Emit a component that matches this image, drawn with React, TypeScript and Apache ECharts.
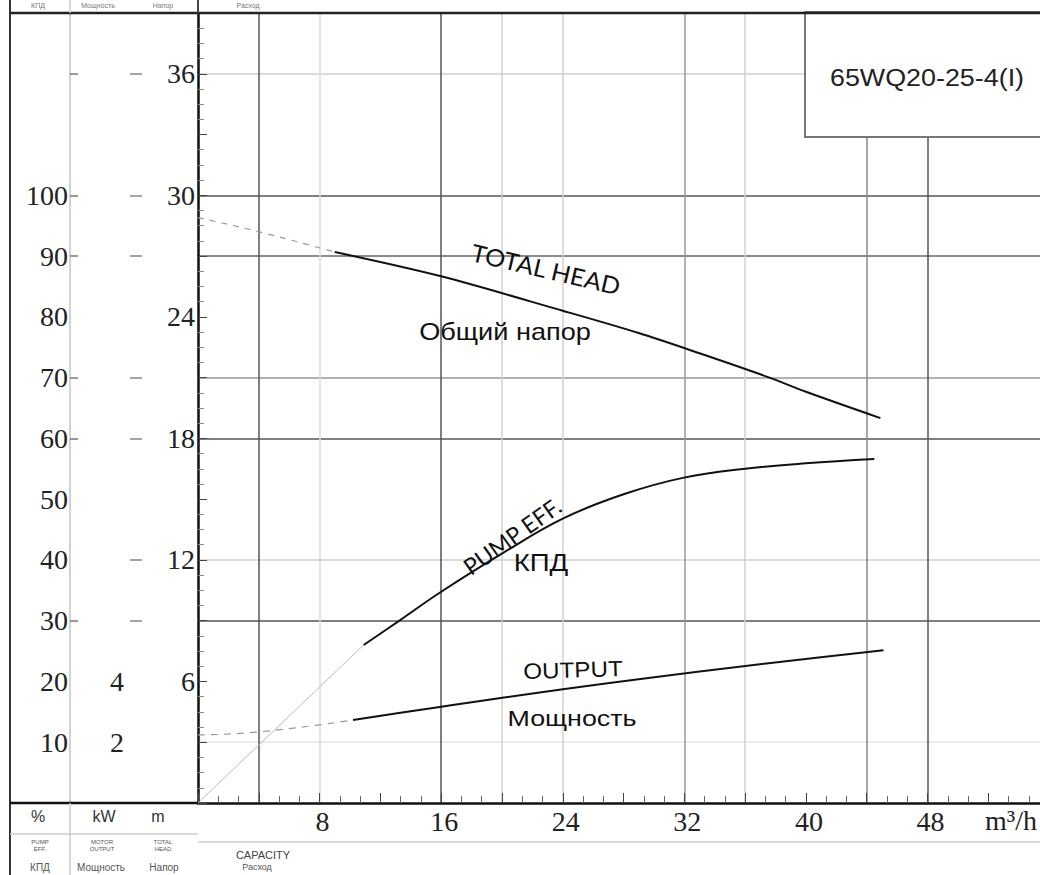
import React, { useEffect, useRef } from "react";
import * as echarts from "echarts";

// ---- data ----
// capacity Q (m3/h) / total head H (m)
const headExtQ = [0, 4, 9];
const headExtH = [28.9, 28.2, 27.2];
const headQ = [9, 16, 24, 29, 33, 37.6, 40, 44.9];
const headH = [27.2, 26.0, 24.3, 23.2, 22.2, 21.0, 20.3, 19.0];
// pump efficiency (%)
const effExtQ = [0, 10.9];
const effExtE = [0, 26.0];
const effQ = [10.9, 13.3, 15.9, 20.1, 24, 28, 31.9, 36, 40, 44.5];
const effE = [26.0, 30.1, 34.6, 41.2, 46.8, 50.8, 53.5, 55.0, 55.9, 56.6];
// motor output (kW)
const powExtQ = [0, 4, 10.2];
const powExtP = [2.24, 2.34, 2.73];
const powQ = [10.2, 15.9, 28.6, 45.1];
const powP = [2.73, 3.16, 4.05, 5.03];

// tick labels
const xLabels = [8, 16, 24, 32, 40, 48];
const headLabels = [6, 12, 18, 24, 30, 36];
const effLabels = [10, 20, 30, 40, 50, 60, 70, 80, 90, 100];
const effTicks = [30, 60, 70, 90, 100, 120];
const kwLabels = [2, 4];
const kwTicks = [6, 8, 12, 14, 18, 20, 24];

const zip = (a: number[], b: number[]) => a.map((v, i) => [v, b[i]]);

const SERIF = "Liberation Serif";
const SANS = "Liberation Sans";
const HUM = "Lato";

export default function App() {
  const ref = useRef<HTMLDivElement>(null);
  useEffect(() => {
    if (!ref.current) return;
    const chart = echarts.init(ref.current, undefined, { renderer: "svg" });
    const T = "rgba(0,0,0,0)";
    const txt = (x: number, y: number, text: string, font: string, extra: any = {}, st: any = {}) => ({
      type: "text",
      z: 20,
      x,
      y,
      ...extra,
      style: { text, font, fill: "#111", align: "center", verticalAlign: "middle", ...st },
    });
    const option: any = {
      animation: false,
      backgroundColor: "#fff",
      grid: { left: 198, top: 13, right: 0, bottom: 72, containLabel: false },
      xAxis: {
        type: "value",
        min: 0,
        max: 55.4,
        interval: 4,
        axisLine: { show: true, onZero: false, lineStyle: { color: "#111", width: 2.5 } },
        axisTick: { show: true, inside: true, length: 10, lineStyle: { color: "#444", width: 1 } },
        minorTick: { show: true, splitNumber: 3, length: 7, lineStyle: { color: "#666", width: 1 } },
        axisLabel: {
          customValues: xLabels,
          fontFamily: SERIF,
          fontSize: 28,
          color: "#222",
          margin: 4,
          padding: [0, 0, 0, 6],
        },
        splitLine: {
          show: true,
          showMinLine: true,
          showMaxLine: false,
          lineStyle: {
            width: 1.5,
            color: [T, "#555", "#dcdcdc", T, "#555", "#d0d0d0", "#d0d0d0", T, "#999", "#d0d0d0", T, "#888", "#555", T],
          },
        },
      },
      yAxis: [
        {
          type: "value",
          position: "left",
          min: 0,
          max: 39,
          interval: 3,
          axisLine: { show: true, onZero: false, lineStyle: { color: "#111", width: 2.5 } },
          axisTick: { show: true, inside: true, length: 9, lineStyle: { color: "#444" } },
          minorTick: { show: true, splitNumber: 4, length: 6, lineStyle: { color: "#888" } },
          axisLabel: {
            customValues: headLabels,
            fontFamily: SERIF,
            fontSize: 28,
            color: "#222",
            margin: 3,
          },
          splitLine: {
            show: true,
            showMinLine: true,
            showMaxLine: false,
            lineStyle: {
              width: 1.5,
              color: [T, "#e6e6e6", T, "#555", "#cfcfcf", T, "#555", "#999", T, "#666", "#555", T, "#cfcfcf", T],
            },
          },
        },
        {
          type: "value",
          position: "left",
          offset: 128,
          min: 0,
          max: 130,
          interval: 10,
          axisLine: { show: true, onZero: false, lineStyle: { color: "#c4c4c4", width: 1.5 } },
          axisTick: { show: true, inside: true, length: 8, customValues: effTicks, lineStyle: { color: "#777", width: 1.5 } },
          axisLabel: {
            customValues: effLabels,
            fontFamily: SERIF,
            fontSize: 28,
            color: "#222",
            margin: 2,
          },
          splitLine: { show: false },
        },
        {
          type: "value",
          position: "left",
          offset: 68,
          min: 0,
          max: 26,
          interval: 2,
          axisLine: { show: true, onZero: false, lineStyle: { color: T, width: 1 } },
          axisTick: { show: true, inside: true, length: 12, customValues: kwTicks, lineStyle: { color: "#888", width: 1.5 } },
          axisLabel: {
            customValues: kwLabels,
            fontFamily: SERIF,
            fontSize: 28,
            color: "#222",
            margin: 6,
          },
          splitLine: { show: false },
        },
      ],
      series: [
        {
          name: "head-ext",
          type: "line",
          yAxisIndex: 0,
          data: zip(headExtQ, headExtH),
          smooth: true,
          symbol: "none",
          lineStyle: { color: "#999", width: 1.2, type: [6, 6] },
        },
        {
          name: "TOTAL HEAD",
          type: "line",
          yAxisIndex: 0,
          data: zip(headQ, headH),
          smooth: 0.3,
          symbol: "none",
          lineStyle: { color: "#111", width: 2 },
        },
        {
          name: "eff-ext",
          type: "line",
          yAxisIndex: 1,
          data: zip(effExtQ, effExtE),
          symbol: "none",
          lineStyle: { color: "#bbb", width: 1 },
        },
        {
          name: "PUMP EFF.",
          type: "line",
          yAxisIndex: 1,
          data: zip(effQ, effE),
          smooth: 0.4,
          symbol: "none",
          lineStyle: { color: "#111", width: 2 },
        },
        {
          name: "out-ext",
          type: "line",
          yAxisIndex: 2,
          data: zip(powExtQ, powExtP),
          smooth: true,
          symbol: "none",
          lineStyle: { color: "#999", width: 1.2, type: [7, 6] },
        },
        {
          name: "OUTPUT",
          type: "line",
          yAxisIndex: 2,
          data: zip(powQ, powP),
          smooth: true,
          symbol: "none",
          lineStyle: { color: "#111", width: 2 },
        },
      ],
      graphic: [
        // frame
        { type: "line", z: 20, shape: { x1: 10, y1: 0, x2: 10, y2: 875 }, style: { stroke: "#333", lineWidth: 2 } },
        { type: "line", z: 20, shape: { x1: 10, y1: 13, x2: 1040, y2: 13 }, style: { stroke: "#222", lineWidth: 2.5 } },
        { type: "line", z: 20, shape: { x1: 10, y1: 803, x2: 198, y2: 803 }, style: { stroke: "#111", lineWidth: 2.5 } },
        { type: "line", z: 20, shape: { x1: 198, y1: 0, x2: 198, y2: 13 }, style: { stroke: "#444", lineWidth: 2 } },
        { type: "line", z: 20, shape: { x1: 70, y1: 0, x2: 70, y2: 13 }, style: { stroke: "#ccc", lineWidth: 1.5 } },
        { type: "line", z: 20, shape: { x1: 70, y1: 803, x2: 70, y2: 875 }, style: { stroke: "#ccc", lineWidth: 1.5 } },
        { type: "line", z: 20, shape: { x1: 10, y1: 834, x2: 198, y2: 834 }, style: { stroke: "#ccc", lineWidth: 1.5 } },
        { type: "line", z: 20, shape: { x1: 198, y1: 842, x2: 1040, y2: 842 }, style: { stroke: "#ccc", lineWidth: 1.5 } },
        // header texts
        txt(38, 5, "КПД", `7px ${SANS}`, {}, { fill: "#777" }),
        txt(98, 5, "Мощность", `7px ${SANS}`, {}, { fill: "#777" }),
        txt(163, 5, "Напор", `7px ${SANS}`, {}, { fill: "#777" }),
        txt(248, 5, "Расход", `7px ${SANS}`, {}, { fill: "#777" }),
        // bottom table
        txt(38, 816, "%", `16px ${SANS}`, {}, { fill: "#333" }),
        txt(104, 816, "kW", `16px ${SANS}`, {}, { fill: "#333" }),
        txt(158, 816, "m", `16px ${SANS}`, {}, { fill: "#333" }),
        txt(40, 845, "PUMP\nEFF.", `6px ${SANS}`, {}, { fill: "#555", lineHeight: 7 }),
        txt(102, 845, "MOTOR\nOUTPUT", `6px ${SANS}`, {}, { fill: "#555", lineHeight: 7 }),
        txt(163, 845, "TOTAL\nHEAD", `6px ${SANS}`, {}, { fill: "#555", lineHeight: 7 }),
        txt(40, 867, "КПД", `10px ${SANS}`, {}, { fill: "#555" }),
        txt(101, 867, "Мощность", `10px ${SANS}`, {}, { fill: "#555" }),
        txt(164, 867, "Напор", `10px ${SANS}`, {}, { fill: "#555" }),
        txt(263, 855, "CAPACITY", `11px ${SANS}`, {}, { fill: "#444" }),
        txt(257, 867, "Расход", `9px ${SANS}`, {}, { fill: "#555" }),
        txt(985, 820, "m³/h", `28px ${SERIF}`, {}, { fill: "#222", align: "left" }),
        // model box
        { type: "rect", z: 15, shape: { x: 805, y: 12, width: 250, height: 125 }, style: { fill: "#fff", stroke: "#777", lineWidth: 2 } },
        { type: "text", z: 16, x: 927, y: 78, scaleX: 1.12, style: { text: "65WQ20-25-4(I)", font: `24px ${SANS}`, fill: "#222", align: "center", verticalAlign: "middle" } },
        // curve annotations
        txt(546, 269, "TOTAL HEAD", `24px ${HUM}`, { rotation: -0.23, scaleX: 1.05 }),
        txt(505, 332, "Общий напор", `23px ${SANS}`, { scaleX: 1.18 }),
        txt(512, 536, "PUMP EFF.", `23px ${HUM}`, { rotation: 0.62 }),
        txt(541, 563, "КПД", `24px ${SANS}`, { scaleX: 1.15 }),
        txt(573, 670, "OUTPUT", `22px ${SANS}`, { rotation: 0.03, scaleX: 1.1 }),
        txt(572, 718, "Мощность", `22px ${SANS}`, { scaleX: 1.22 }),
      ],
    };
    chart.setOption(option);
    return () => chart.dispose();
  }, []);
  return (
    <div
      ref={ref}
      style={{ position: "absolute", left: 0, top: 0, width: 1040, height: 875, background: "#fff" }}
    />
  );
}
